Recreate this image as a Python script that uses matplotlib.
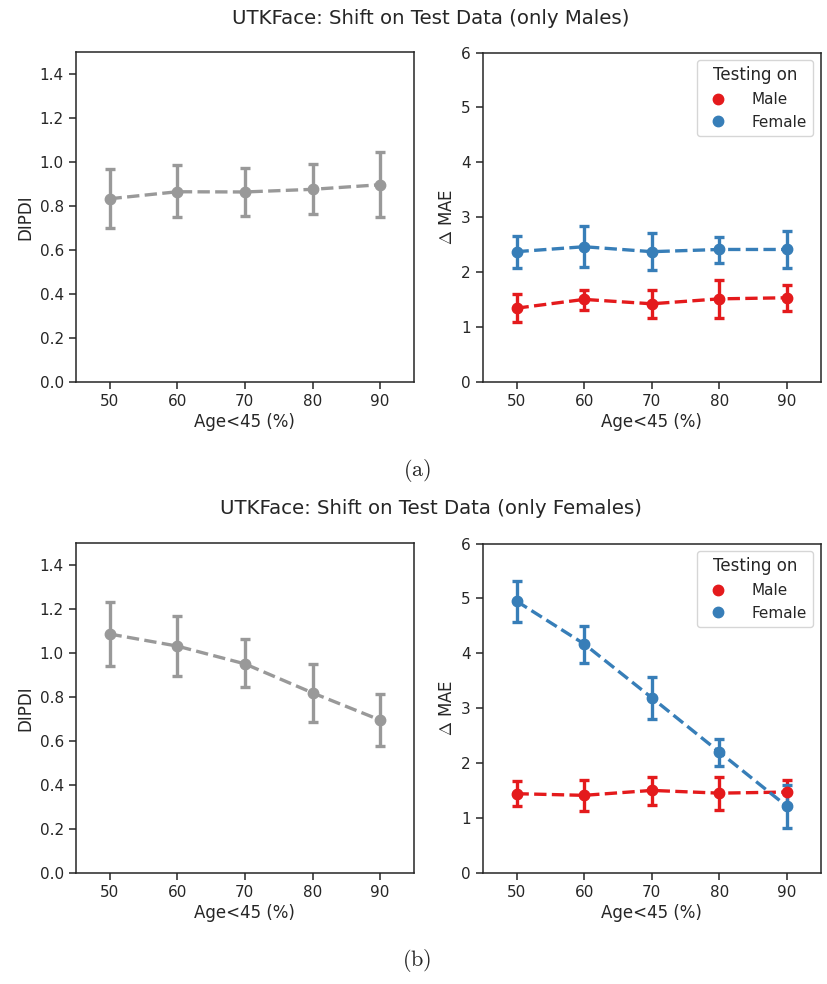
import matplotlib
matplotlib.use("Agg")
import matplotlib.pyplot as plt
import seaborn as sns
import numpy as np

sns.set_theme(style="ticks")
plt.rcParams['font.family'] = ['DejaVu Sans']
plt.rcParams['mathtext.fontset'] = 'cm'

ages = [50, 60, 70, 80, 90]

# shift on test data, only males
dipdi_m = [0.833, 0.865, 0.864, 0.876, 0.897]
dipdi_m_lo = [0.701, 0.748, 0.756, 0.762, 0.748]
dipdi_m_hi = [0.968, 0.985, 0.975, 0.993, 1.047]

mae_m_male = [1.34, 1.50, 1.42, 1.51, 1.53]
mae_m_male_lo = [1.08, 1.31, 1.17, 1.17, 1.29]
mae_m_male_hi = [1.60, 1.67, 1.67, 1.85, 1.76]
mae_m_female = [2.37, 2.46, 2.37, 2.41, 2.41]
mae_m_female_lo = [2.08, 2.09, 2.03, 2.17, 2.07]
mae_m_female_hi = [2.66, 2.83, 2.71, 2.63, 2.74]

# shift on test data, only females
dipdi_f = [1.087, 1.032, 0.951, 0.819, 0.695]
dipdi_f_lo = [0.941, 0.897, 0.844, 0.687, 0.576]
dipdi_f_hi = [1.234, 1.169, 1.062, 0.950, 0.813]

mae_f_male = [1.44, 1.41, 1.50, 1.45, 1.47]
mae_f_male_lo = [1.22, 1.13, 1.24, 1.15, 1.24]
mae_f_male_hi = [1.67, 1.69, 1.74, 1.74, 1.69]
mae_f_female = [4.95, 4.17, 3.19, 2.20, 1.21]
mae_f_female_lo = [4.57, 3.83, 2.81, 1.94, 0.81]
mae_f_female_hi = [5.32, 4.50, 3.56, 2.44, 1.59]

GREY = '#999999'
RED = '#e41a1c'
BLUE = '#377eb8'
W, H = 827, 984

fig = plt.figure(figsize=(W / 100, H / 100), dpi=100)


def px_axes(x0, y0, x1, y1):
    return fig.add_axes([x0 / W, 1 - y1 / H, (x1 - x0) / W, (y1 - y0) / H])


def point_series(ax, y, lo, hi, color):
    pos = np.arange(len(ages))
    y = np.array(y)
    err = [y - np.array(lo), np.array(hi) - y]
    ax.errorbar(pos, y, yerr=err, fmt='o', color=color, ms=7.5,
                elinewidth=2.4, capsize=3.5, capthick=2.4, zorder=3)
    ax.plot(pos, y, '--', color=color, lw=2.4, dashes=(3.7, 1.6), zorder=2)


def style(ax, ylim, ylabel):
    ax.set_xlim(-0.5, len(ages) - 0.5)
    ax.set_xticks(np.arange(len(ages)))
    ax.set_xticklabels([str(a) for a in ages])
    ax.set_ylim(*ylim)
    ax.set_xlabel('Age<45 (%)', fontsize=12, labelpad=3)
    ax.set_ylabel(ylabel, fontsize=12)
    ax.tick_params(labelsize=11, length=5, width=1.1, pad=3.5)
    for s in ax.spines.values():
        s.set_linewidth(1.1)


panels = [
    (0, 'UTKFace: Shift on Test Data (only Males)', '(a)',
     (dipdi_m, dipdi_m_lo, dipdi_m_hi),
     (mae_m_male, mae_m_male_lo, mae_m_male_hi),
     (mae_m_female, mae_m_female_lo, mae_m_female_hi)),
    (491, 'UTKFace: Shift on Test Data (only Females)', '(b)',
     (dipdi_f, dipdi_f_lo, dipdi_f_hi),
     (mae_f_male, mae_f_male_lo, mae_f_male_hi),
     (mae_f_female, mae_f_female_lo, mae_f_female_hi)),
]

for off, title, cap, dip, male, female in panels:
    ax1 = px_axes(75.7, 52.3 + off, 414, 381.7 + off)
    point_series(ax1, *dip, GREY)
    style(ax1, (0, 1.5), 'DIPDI')
    ax1.set_yticks(np.arange(0, 1.41, 0.2))

    ax2 = px_axes(482.7, 52.5 + off, 820.7, 381.7 + off)
    point_series(ax2, *male, RED)
    point_series(ax2, *female, BLUE)
    style(ax2, (0, 6), r'$\Delta$ MAE')
    handles = [plt.Line2D([], [], marker='o', ls='', color=c, ms=7.5)
               for c in (RED, BLUE)]
    ax2.legend(handles, ['Male', 'Female'], title='Testing on', loc='upper right',
               fontsize=11, title_fontsize=12, handletextpad=1.2,
               borderaxespad=0.5)

    fig.text(431 / W, 1 - (18 + off) / H, title, ha='center', va='center',
             fontsize=14.2)
    fig.text(417 / W, 1 - (470 + off) / H, r'$\mathrm{' + cap + '}$',
             ha='center', va='center', fontsize=16)

fig.savefig('out.png', dpi=100)
